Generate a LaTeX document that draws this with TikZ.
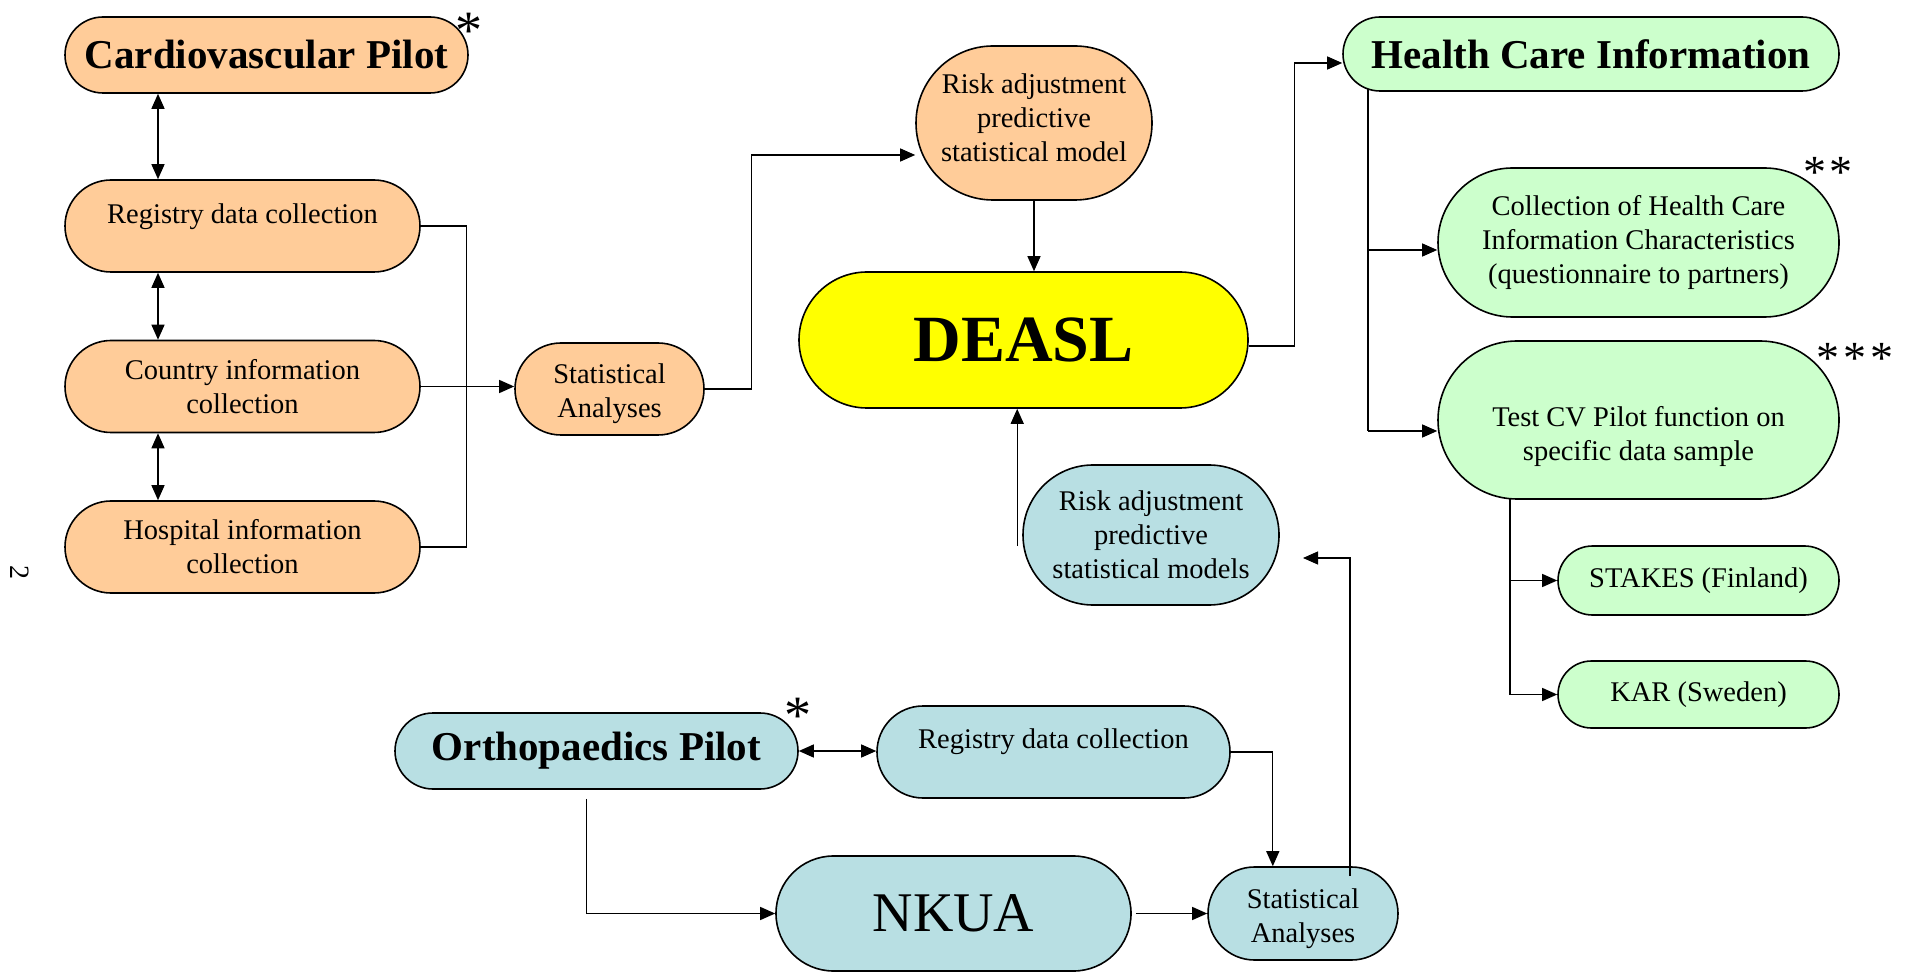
\documentclass[tikz,border=0pt]{standalone}
\usepackage{fontspec}
\setmainfont{Liberation Serif}
\usetikzlibrary{shapes.misc}
\usetikzlibrary{arrows.meta}

\definecolor{cvorange}{HTML}{FFCC99}
\definecolor{ortblue}{HTML}{B8DFE3}
\definecolor{hcgreen}{HTML}{CCFFCC}
\definecolor{deaslyellow}{HTML}{FFFF00}

\tikzset{
  pill/.style={draw, line width=0.8pt, rounded rectangle, align=center,
    inner sep=0pt, font=\fontsize{14.25}{17}\selectfont},
  cv/.style={pill, fill=cvorange},
  ort/.style={pill, fill=ortblue},
  hc/.style={pill, fill=hcgreen},
  headline/.style={font=\fontsize{20.5}{24}\selectfont\bfseries},
  starnote/.style={inner sep=0pt, font=\fontsize{27}{27}\selectfont},
  starsmall/.style={inner sep=0pt, font=\fontsize{23}{23}\selectfont},
  conn/.style={-{Triangle[length=7.5pt,width=6.5pt]}, line width=0.65pt},
  twoway/.style={{Triangle[length=7.5pt,width=6.5pt]}-{Triangle[length=7.5pt,width=6.5pt]}, line width=0.65pt},
  wire/.style={line width=0.65pt}
}

\begin{document}
\begin{tikzpicture}[x=0.5pt, y=-0.5pt]
    \useasboundingbox (0,0) rectangle (1910,972);

    % cardiovascular pilot
    \node[cv, headline, minimum width=201.5pt, minimum height=38pt] (cvp) at (266.5,55) {Cardiovascular Pilot};
    \node[cv, minimum width=177.5pt, minimum height=46pt] (cvreg) at (242.5,226) {Registry data collection\\[-5pt]\mbox{}};
    \node[cv, minimum width=177.5pt, minimum height=46pt] (cvcty) at (242.5,386.5) {Country information\\collection};
    \node[cv, minimum width=177.5pt, minimum height=46pt] (cvhosp) at (242.5,547) {Hospital information\\collection};
    \node[cv, minimum width=94.5pt, minimum height=46pt] (cvstat) at (609.5,389) {\rule{0pt}{15pt}Statistical\\Analyses};
    \node[cv, minimum width=118pt, minimum height=77pt] (cvrisk) at (1034,123) {Risk adjustment\\predictive\\statistical model\\[-12pt]\mbox{}};

    % centre
    \node[pill, fill=deaslyellow, minimum width=224.5pt, minimum height=68pt,
          font=\fontsize{33}{36}\selectfont\bfseries] (deasl) at (1023.5,340) {DEASL};

    % health care information
    \node[hc, headline, minimum width=248pt, minimum height=37pt] (hci) at (1591,54) {Health Care Information};
    \node[hc, minimum width=200.5pt, minimum height=74.5pt] (hcchar) at (1638.5,242.5) {Collection of Health Care\\Information Characteristics\\(questionnaire to partners)};
    \node[hc, minimum width=200.5pt, minimum height=79pt] (test) at (1638.5,420) {\rule{0pt}{27pt}Test CV Pilot function on\\specific data sample};
    \node[hc, minimum width=140.5pt, minimum height=34.5pt] (stakes) at (1698.5,580.5) {STAKES (Finland)};
    \node[hc, minimum width=140.5pt, minimum height=33.5pt] (kar) at (1698.5,694.5) {KAR (Sweden)};

    % orthopaedics pilot
    \node[ort, minimum width=128pt, minimum height=70pt] (orrisk) at (1151,535) {Risk adjustment\\predictive\\statistical models};
    \node[ort, headline, minimum width=201.5pt, minimum height=38pt] (orp) at (596.5,751) {Orthopaedics Pilot};
    \node[ort, minimum width=176.5pt, minimum height=46pt] (orreg) at (1053.5,752) {Registry data collection\\[-4pt]\mbox{}};
    \node[ort, minimum width=177.5pt, minimum height=57.5pt, font=\fontsize{28}{30}\selectfont] (nkua) at (953.5,913.5) {NKUA};
    \node[ort, minimum width=95pt, minimum height=46.5pt] (orstat) at (1303,913.5) {\rule{0pt}{15pt}Statistical\\Analyses};

    % stars and page number
    \node[starnote] (star1) at (469,31) {*};
    \node[starsmall] (star2) at (1828,172) {*\hspace{2pt}*};
    \node[starsmall] (star3) at (1855,358) {*\hspace{2pt}*\hspace{2pt}*};
    \node[starnote] (star4) at (798,716) {*};
    \node[rotate=-90, inner sep=0pt, font=\fontsize{14}{14}\selectfont] (pagenum) at (20,572) {2};

    % connectors, left part
    \coordinate (cvx) at (158,0);
    \draw[twoway] (cvp.south -| cvx) -- (cvreg.north -| cvx);
    \draw[twoway] (cvreg.south -| cvx) -- (cvcty.north -| cvx);
    \draw[twoway] (cvcty.south -| cvx) -- (cvhosp.north -| cvx);
    \draw[wire] (cvreg.east) -- ++(23pt,0) coordinate (cvbar) -- (cvbar |- cvhosp.east) -- (cvhosp.east);
    \draw[conn] (cvcty.east) -- (cvcty.east -| cvstat.west);
    \draw[conn] (cvstat.east) -- ++(23.5pt,0) coordinate (cvup) |- ([yshift=-16pt]cvrisk.west);
    \draw[conn] (cvrisk.south) -- (cvrisk.south |- deasl.north);

    % connectors, right part
    \draw[conn] ([yshift=-3pt]deasl.east) -- ++(23pt,0) coordinate (dup) |- ([yshift=-4.5pt]hci.west);
    \coordinate (hcx) at (1368,89);
    \coordinate (hcmid) at (1368,250);
    \coordinate (hcend) at (1368,431);
    \draw[wire] (hcx) -- (hcend);
    \draw[conn] (hcmid) -- (hcmid -| hcchar.west);
    \draw[conn] (hcend) -- (hcend -| test.west);
    \coordinate (tx) at (1510,499);
    \draw[conn] (tx) |- (stakes.west);
    \draw[conn] (tx) |- (kar.west);

    % connectors, bottom part
    \draw[conn] ([xshift=-2.5pt,yshift=-5.5pt]orrisk.west) coordinate (rs) -- (rs |- deasl.south);
    \coordinate (orend) at (1303,558);
    \draw[conn] (1350,876) -- (1350,558) -- (orend);
    \draw[twoway] (orp.east) -- (orp.east -| orreg.west);
    \draw[conn] (orreg.east) -- ++(21pt,0) coordinate (ordown) -- (ordown |- orstat.north);
    \draw[conn] ([xshift=-5pt,yshift=-4.5pt]orp.south) |- (nkua.west);
    \draw[conn] ([xshift=2pt]nkua.east) -- (orstat.west);
\end{tikzpicture}
\end{document}
